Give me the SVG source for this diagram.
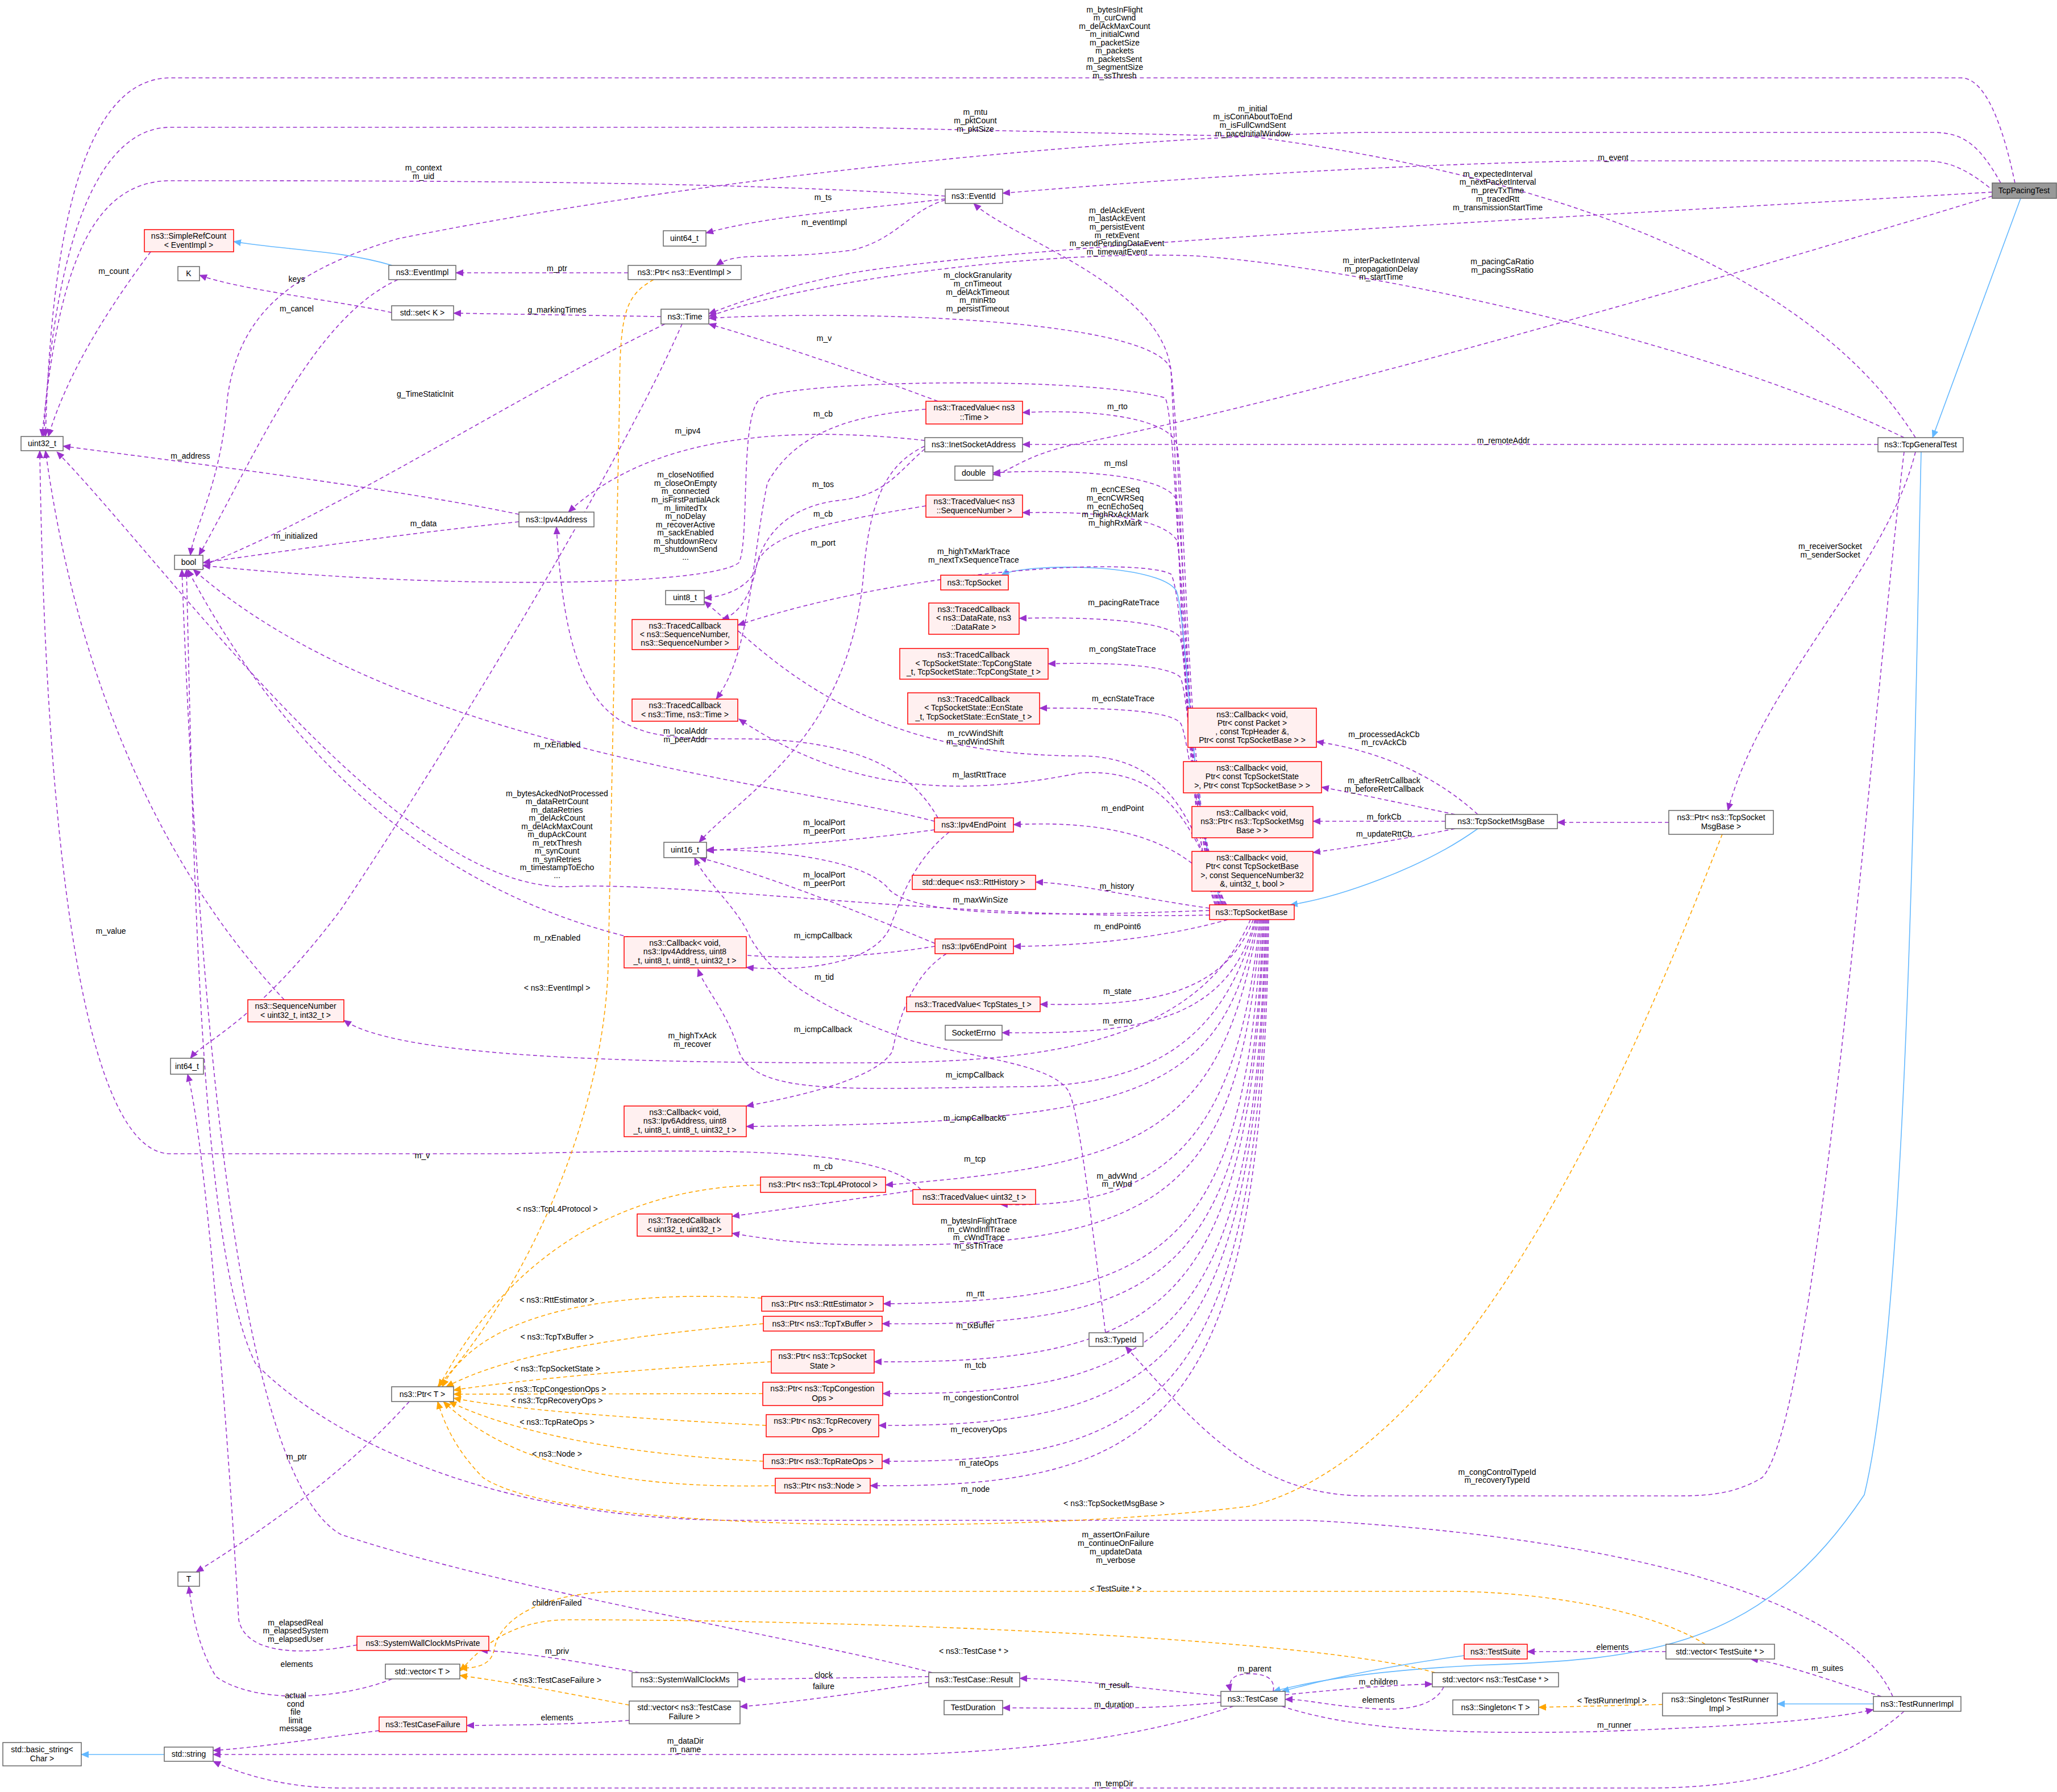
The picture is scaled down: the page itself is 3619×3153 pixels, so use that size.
<svg xmlns="http://www.w3.org/2000/svg" width="3619" height="3153" viewBox="0 0 3619 3153">
<style>
text{font-family:"Liberation Sans",Arial,sans-serif;font-size:14px;fill:#000;text-anchor:middle}
.n rect{fill:#fff;stroke:#666;stroke-width:1.5}
.r rect{fill:#fff0f0;stroke:#f00;stroke-width:1.5}
.g rect{fill:#999;stroke:#666;stroke-width:1.5}
#edges path{fill:none;stroke-width:1.6}
.p{stroke:#9a32cd;stroke-dasharray:7,5;marker-end:url(#mp)}
.o{stroke:#ffa500;stroke-dasharray:7,5;marker-end:url(#mo)}
.b{stroke:#63b8ff;marker-end:url(#mb)}
</style>
<defs>
<marker id="mp" markerWidth="14" markerHeight="12" refX="13" refY="6" orient="auto" markerUnits="userSpaceOnUse"><path d="M0,0 L14,6 L0,12 z" fill="#9a32cd"/></marker>
<marker id="mo" markerWidth="14" markerHeight="12" refX="13" refY="6" orient="auto" markerUnits="userSpaceOnUse"><path d="M0,0 L14,6 L0,12 z" fill="#ffa500"/></marker>
<marker id="mb" markerWidth="14" markerHeight="12" refX="13" refY="6" orient="auto" markerUnits="userSpaceOnUse"><path d="M0,0 L14,6 L0,12 z" fill="#63b8ff"/></marker>
</defs>
<rect width="3619" height="3153" fill="#fff"/>
<g id="edges">
<path class="p" d="M3545,322 C3530,250 3500,137 3450,137 L300,137 C150,137 90,400 80,768"/>
<path class="p" d="M3370,770 C3200,500 2800,320 2200,240 L1500,224 L300,224 C150,224 90,500 77,768"/>
<path class="p" d="M1663,345 C1300,318 700,318 300,318 C150,318 100,500 74,768"/>
<path class="p" d="M265,443 C200,530 120,650 85,768"/>
<path class="p" d="M913,905 C700,860 300,810 111,785"/>
<path class="p" d="M500,1759 C350,1600 150,1300 80,793"/>
<path class="p" d="M1620,2093 C1550,2020 1300,2020 900,2030 L300,2030 C150,2030 80,1500 70,793"/>
<path class="p" d="M2128,1610 C1700,1620 1200,1550 1000,1560 C700,1570 300,1000 100,795"/>
<path class="p" d="M3520,322 C3480,250 3450,233 3400,233 L2400,233 C2000,240 1300,300 700,420 C500,480 420,560 400,700 C390,850 340,930 335,977"/>
<path class="p" d="M700,492 C550,560 450,800 350,977"/>
<path class="p" d="M1170,570 C900,700 600,900 345,1000"/>
<path class="p" d="M913,918 C700,940 500,970 357,990"/>
<path class="p" d="M2138,1592 C2080,1450 2075,750 2050,700 C1900,660 1400,670 1340,700 C1300,720 1320,950 1300,990 C1250,1030 800,1040 357,995"/>
<path class="p" d="M1644,1445 C1400,1380 700,1320 340,1002"/>
<path class="p" d="M1645,1665 C1300,1720 700,1700 330,1002"/>
<path class="p" d="M3330,2985 C3250,2800 2800,2700 2300,2675 L1300,2675 C900,2675 600,2550 450,2400 C350,2200 340,1500 328,1002"/>
<path class="p" d="M1640,2943 C1400,2880 900,2800 600,2700 C420,2600 350,1800 320,1002"/>
<path class="p" d="M3500,330 C3450,290 3420,283 3380,283 L2800,283 C2400,290 2000,320 1764,340"/>
<path class="p" d="M1663,350 C1500,370 1350,380 1242,410"/>
<path class="p" d="M1663,352 C1600,370 1580,420 1500,440 C1350,460 1300,440 1260,467"/>
<path class="p" d="M1105,480 L802,480"/>
<path class="b" d="M690,467 C600,440 500,440 411,425"/>
<path class="p" d="M689,550 C600,530 420,510 351,484"/>
<path class="p" d="M1163,557 L798,551"/>
<path class="p" d="M1200,570 C1100,800 800,1300 600,1600 C450,1800 360,1830 335,1862"/>
<path class="p" d="M3505,338 C2800,380 1800,430 1500,480 C1350,510 1280,540 1247,552"/>
<path class="p" d="M3350,770 C3000,600 2400,470 2100,450 C1800,440 1400,500 1247,557"/>
<path class="p" d="M3505,345 C3000,500 2300,700 1900,780 C1800,800 1780,830 1747,835"/>
<path class="p" d="M2140,1592 C2080,1450 2075,900 2060,650 C2040,500 1780,420 1713,358"/>
<path class="p" d="M2142,1592 C2085,1450 2080,800 2060,650 C2030,560 1500,545 1247,560"/>
<path class="p" d="M1650,706 C1500,650 1350,600 1247,570"/>
<path class="p" d="M1629,720 C1500,730 1400,760 1350,850 C1320,1000 1320,1150 1260,1230"/>
<path class="p" d="M1629,890 C1450,920 1340,940 1330,1000 C1320,1050 1300,1080 1270,1090"/>
<path class="p" d="M1627,775 C1400,750 1150,760 1000,901"/>
<path class="p" d="M1627,785 C1550,820 1530,900 1520,1000 C1500,1300 1300,1400 1230,1482"/>
<path class="p" d="M1627,790 C1580,830 1560,870 1480,880 C1380,890 1340,950 1330,1000 C1320,1030 1280,1050 1239,1052"/>
<path class="p" d="M3304,782 L1799,782"/>
<path class="p" d="M2145,1592 C2090,1450 2085,950 2070,880 C2050,830 1850,825 1747,832"/>
<path class="p" d="M2146,1592 C2090,1450 2085,850 2070,780 C2050,730 1900,720 1799,726"/>
<path class="p" d="M2148,1592 C2090,1450 2085,1000 2070,950 C2040,905 1900,900 1799,902"/>
<path class="b" d="M2150,1592 C2095,1450 2090,1100 2070,1040 C2040,990 1800,990 1762,1012"/>
<path class="p" d="M2144,1592 C2090,1450 2085,1050 2060,1010 C2000,980 1600,1000 1298,1100"/>
<path class="p" d="M2152,1592 C2095,1450 2090,1150 2075,1120 C2050,1090 1900,1085 1793,1088"/>
<path class="p" d="M2154,1592 C2100,1450 2090,1200 2075,1190 C2050,1170 1950,1165 1844,1168"/>
<path class="p" d="M2156,1592 C2100,1450 2090,1280 2075,1270 C2050,1250 1950,1245 1829,1246"/>
<path class="p" d="M2150,1592 C2100,1450 2060,1330 1900,1330 C1500,1330 1350,1150 1239,1058"/>
<path class="p" d="M2152,1592 C2100,1450 2050,1350 1900,1360 C1700,1400 1500,1400 1300,1265"/>
<path class="p" d="M2158,1592 C2110,1500 2000,1440 1783,1451"/>
<path class="p" d="M2128,1602 C1900,1610 1600,1620 1560,1560 C1500,1500 1300,1495 1243,1495"/>
<path class="p" d="M2128,1598 C2000,1580 1900,1555 1822,1552"/>
<path class="p" d="M2160,1618 C2050,1650 1900,1665 1783,1665"/>
<path class="p" d="M2205,1618 C2150,1760 2000,1770 1830,1767"/>
<path class="p" d="M2208,1618 C2160,1800 2000,1820 1763,1817"/>
<path class="p" d="M2210,1618 C2150,1850 2000,1910 1800,1912 C1500,1915 1330,1930 1300,1850 C1280,1780 1240,1740 1228,1705"/>
<path class="p" d="M2212,1618 C2150,1930 2000,1975 1313,1982"/>
<path class="p" d="M2200,1618 C2100,1850 1800,1870 1500,1870 C1100,1870 700,1860 605,1795"/>
<path class="p" d="M2214,1618 C2150,2000 2000,2050 1558,2085"/>
<path class="p" d="M2216,1618 C2180,2000 2050,2130 1760,2119"/>
<path class="p" d="M2218,1618 C2180,2100 2050,2200 1500,2190 C1400,2188 1350,2180 1288,2170"/>
<path class="p" d="M2220,1618 C2190,2200 2050,2290 1554,2294"/>
<path class="p" d="M2222,1618 C2200,2250 2050,2335 1552,2329"/>
<path class="p" d="M2224,1618 C2200,2300 2050,2400 1538,2396"/>
<path class="p" d="M2226,1618 C2210,2350 2050,2455 1553,2452"/>
<path class="p" d="M2228,1618 C2210,2400 2050,2510 1546,2508"/>
<path class="p" d="M2230,1618 C2215,2450 2050,2575 1552,2571"/>
<path class="p" d="M2232,1618 C2220,2500 2050,2618 1531,2614"/>
<path class="p" d="M1650,1439 C1600,1350 1500,1300 1300,1300 C1100,1300 1000,1300 979,927"/>
<path class="p" d="M1644,1460 C1500,1480 1350,1490 1243,1497"/>
<path class="p" d="M1670,1464 C1600,1520 1580,1600 1570,1620 C1550,1700 1400,1710 1313,1702"/>
<path class="p" d="M1645,1660 C1500,1600 1350,1540 1230,1509"/>
<path class="p" d="M1665,1678 C1600,1720 1580,1800 1570,1850 C1540,1900 1400,1930 1313,1946"/>
<path class="p" d="M1945,2345 C1920,2150 1900,1960 1880,1920 C1850,1870 1700,1860 1600,1830 C1400,1760 1350,1700 1320,1650 C1300,1600 1240,1550 1222,1509"/>
<path class="p" d="M1620,2093 C1500,2110 1400,2125 1288,2140"/>
<path class="p" d="M2600,1433 C2520,1360 2420,1320 2316,1305"/>
<path class="p" d="M2560,1433 C2450,1410 2380,1395 2325,1385"/>
<path class="p" d="M2543,1445 L2310,1445"/>
<path class="p" d="M2560,1458 C2450,1480 2380,1490 2310,1500"/>
<path class="b" d="M2600,1458 C2500,1530 2350,1580 2270,1592"/>
<path class="p" d="M2936,1447 L2740,1447"/>
<path class="p" d="M3370,795 C3320,1000 3100,1200 3040,1426"/>
<path class="p" d="M3350,795 C3300,1200 3200,2500 3100,2600 C3050,2630 3000,2632 2950,2632 L2400,2632 C2200,2630 2100,2500 1980,2369"/>
<path class="b" d="M3555,349 L3400,770"/>
<path class="b" d="M3380,795 C3370,1200 3360,2300 3280,2630 C3100,2900 2900,2920 2600,2930 C2400,2940 2300,2960 2240,2976"/>
<path class="o" d="M1150,492 C1100,520 1090,550 1090,700 L1070,1700 C1060,2000 900,2300 770,2440"/>
<path class="o" d="M1338,2085 C1100,2090 900,2200 772,2440"/>
<path class="o" d="M1340,2284 C1100,2270 850,2300 778,2440"/>
<path class="o" d="M1343,2329 C1100,2350 900,2380 785,2440"/>
<path class="o" d="M1357,2396 C1100,2410 900,2430 798,2446"/>
<path class="o" d="M1342,2452 L798,2453"/>
<path class="o" d="M1348,2508 C1100,2495 900,2480 798,2460"/>
<path class="o" d="M1343,2571 C1100,2560 900,2520 790,2466"/>
<path class="o" d="M1364,2614 C1100,2620 900,2580 780,2466"/>
<path class="o" d="M3030,1468 C2900,1800 2600,2550 2200,2650 C1800,2700 1000,2700 850,2600 C800,2550 780,2500 770,2466"/>
<path class="p" d="M720,2466 C600,2600 450,2700 345,2766"/>
<path class="p" d="M690,2954 C600,2990 450,3000 380,2950 C350,2900 340,2850 332,2791"/>
<path class="p" d="M640,2892 C500,2920 430,2900 420,2850 C400,2500 360,2000 330,1890"/>
<path class="o" d="M1107,3000 C1000,2980 900,2960 809,2948"/>
<path class="o" d="M2525,2943 C2300,2880 1500,2850 1000,2850 C880,2850 830,2920 809,2940"/>
<path class="o" d="M3000,2893 C2900,2830 2700,2800 2550,2800 L1100,2800 C950,2800 880,2850 870,2900 C865,2930 840,2935 809,2935"/>
<path class="p" d="M2148,2984 C2000,2970 1900,2955 1794,2953"/>
<path class="p" d="M2148,2995 C2000,3010 1900,3005 1764,3005"/>
<path class="p" d="M2170,3002 C2000,3060 1800,3080 1600,3087 L375,3087"/>
<path class="p" d="M3350,3011 C3250,3100 3100,3146 2900,3146 L600,3146 C500,3146 420,3120 375,3099"/>
<path class="p" d="M2240,2976 C2245,2950 2220,2945 2200,2945 C2170,2945 2160,2955 2165,2976"/>
<path class="p" d="M2261,2982 C2380,2970 2450,2965 2520,2963"/>
<path class="p" d="M2540,2968 C2520,3010 2450,3010 2400,3005 C2330,3000 2300,2990 2261,2990"/>
<path class="b" d="M2576,2913 C2450,2930 2350,2950 2255,2976"/>
<path class="p" d="M2931,2906 L2687,2906"/>
<path class="p" d="M3310,2985 C3200,2950 3130,2925 3080,2919"/>
<path class="b" d="M3296,2998 L3127,2998"/>
<path class="o" d="M2925,2999 L2707,3004"/>
<path class="p" d="M2255,3002 C2400,3050 2600,3050 2800,3047 C3000,3040 3200,3030 3296,3008"/>
<path class="p" d="M1634,2950 L1298,2955"/>
<path class="p" d="M1634,2960 C1500,2980 1400,2995 1302,3003"/>
<path class="p" d="M1125,2943 C1000,2920 900,2905 845,2904"/>
<path class="p" d="M1107,3027 C1000,3035 900,3035 821,3036"/>
<path class="p" d="M667,3045 C550,3060 450,3075 375,3080"/>
<path class="b" d="M289,3087 L143,3087"/>
</g>
<g id="labels">
<text x="1961" y="22">m_bytesInFlight</text><text x="1961" y="36">m_curCwnd</text><text x="1961" y="51">m_delAckMaxCount</text><text x="1961" y="65">m_initialCwnd</text><text x="1961" y="80">m_packetSize</text><text x="1961" y="94">m_packets</text><text x="1961" y="109">m_packetsSent</text><text x="1961" y="123">m_segmentSize</text><text x="1961" y="138">m_ssThresh</text>
<text x="2204" y="196">m_initial</text><text x="2204" y="210">m_isConnAboutToEnd</text><text x="2204" y="225">m_isFullCwndSent</text><text x="2204" y="240">m_paceInitialWindow</text>
<text x="1716" y="202">m_mtu</text><text x="1716" y="217">m_pktCount</text><text x="1716" y="232">m_pktSize</text>
<text x="2838" y="282">m_event</text>
<text x="745" y="300">m_context</text><text x="745" y="315">m_uid</text>
<text x="2635" y="311">m_expectedInterval</text><text x="2635" y="325">m_nextPacketInterval</text><text x="2635" y="340">m_prevTxTime</text><text x="2635" y="355">m_tracedRtt</text><text x="2635" y="370">m_transmissionStartTime</text>
<text x="1448" y="352">m_ts</text>
<text x="1965" y="375">m_delAckEvent</text><text x="1965" y="389">m_lastAckEvent</text><text x="1965" y="404">m_persistEvent</text><text x="1965" y="419">m_retxEvent</text><text x="1965" y="433">m_sendPendingDataEvent</text><text x="1965" y="448">m_timewaitEvent</text>
<text x="1450" y="396">m_eventImpl</text>
<text x="980" y="477">m_ptr</text>
<text x="200" y="482">m_count</text>
<text x="522" y="496">keys</text>
<text x="2430" y="463">m_interPacketInterval</text><text x="2430" y="478">m_propagationDelay</text><text x="2430" y="492">m_startTime</text>
<text x="2643" y="465">m_pacingCaRatio</text><text x="2643" y="480">m_pacingSsRatio</text>
<text x="1720" y="489">m_clockGranularity</text><text x="1720" y="504">m_cnTimeout</text><text x="1720" y="519">m_delAckTimeout</text><text x="1720" y="533">m_minRto</text><text x="1720" y="548">m_persistTimeout</text>
<text x="522" y="548">m_cancel</text>
<text x="980" y="550">g_markingTimes</text>
<text x="1450" y="600">m_v</text>
<text x="748" y="698">g_TimeStaticInit</text>
<text x="1448" y="733">m_cb</text>
<text x="1966" y="720">m_rto</text>
<text x="1210" y="763">m_ipv4</text>
<text x="2645" y="780">m_remoteAddr</text>
<text x="335" y="807">m_address</text>
<text x="1206" y="840">m_closeNotified</text><text x="1206" y="855">m_closeOnEmpty</text><text x="1206" y="869">m_connected</text><text x="1206" y="884">m_isFirstPartialAck</text><text x="1206" y="899">m_limitedTx</text><text x="1206" y="913">m_noDelay</text><text x="1206" y="928">m_recoverActive</text><text x="1206" y="942">m_sackEnabled</text><text x="1206" y="957">m_shutdownRecv</text><text x="1206" y="971">m_shutdownSend</text><text x="1206" y="985">...</text>
<text x="1963" y="820">m_msl</text>
<text x="1962" y="866">m_ecnCESeq</text><text x="1962" y="881">m_ecnCWRSeq</text><text x="1962" y="896">m_ecnEchoSeq</text><text x="1962" y="910">m_highRxAckMark</text><text x="1962" y="925">m_highRxMark</text>
<text x="1448" y="857">m_tos</text>
<text x="1448" y="909">m_cb</text>
<text x="745" y="926">m_data</text>
<text x="520" y="948">m_initialized</text>
<text x="1448" y="960">m_port</text>
<text x="1713" y="975">m_highTxMarkTrace</text><text x="1713" y="990">m_nextTxSequenceTrace</text>
<text x="1977" y="1065">m_pacingRateTrace</text>
<text x="1975" y="1147">m_congStateTrace</text>
<text x="1976" y="1234">m_ecnStateTrace</text>
<text x="1716" y="1295">m_rcvWindShift</text><text x="1716" y="1310">m_sndWindShift</text>
<text x="2435" y="1297">m_processedAckCb</text><text x="2435" y="1311">m_rcvAckCb</text>
<text x="1206" y="1291">m_localAddr</text><text x="1206" y="1306">m_peerAddr</text>
<text x="980" y="1315">m_rxEnabled</text>
<text x="1723" y="1368">m_lastRttTrace</text>
<text x="2435" y="1378">m_afterRetrCallback</text><text x="2435" y="1393">m_beforeRetrCallback</text>
<text x="980" y="1401">m_bytesAckedNotProcessed</text><text x="980" y="1415">m_dataRetrCount</text><text x="980" y="1430">m_dataRetries</text><text x="980" y="1444">m_delAckCount</text><text x="980" y="1459">m_delAckMaxCount</text><text x="980" y="1473">m_dupAckCount</text><text x="980" y="1488">m_retxThresh</text><text x="980" y="1502">m_synCount</text><text x="980" y="1517">m_synRetries</text><text x="980" y="1531">m_timestampToEcho</text><text x="980" y="1545">...</text>
<text x="1975" y="1427">m_endPoint</text>
<text x="2435" y="1442">m_forkCb</text>
<text x="3220" y="966">m_receiverSocket</text><text x="3220" y="981">m_senderSocket</text>
<text x="3025" y="1443">m_ptr</text>
<text x="1450" y="1452">m_localPort</text><text x="1450" y="1467">m_peerPort</text>
<text x="2435" y="1472">m_updateRttCb</text>
<text x="1450" y="1544">m_localPort</text><text x="1450" y="1559">m_peerPort</text>
<text x="1965" y="1564">m_history</text>
<text x="1725" y="1588">m_maxWinSize</text>
<text x="1966" y="1635">m_endPoint6</text>
<text x="195" y="1643">m_value</text>
<text x="1448" y="1651">m_icmpCallback</text>
<text x="980" y="1655">m_rxEnabled</text>
<text x="1450" y="1724">m_tid</text>
<text x="980" y="1743">&lt; ns3::EventImpl &gt;</text>
<text x="1966" y="1749">m_state</text>
<text x="1966" y="1801">m_errno</text>
<text x="1448" y="1816">m_icmpCallback</text>
<text x="1218" y="1827">m_highTxAck</text><text x="1218" y="1842">m_recover</text>
<text x="1715" y="1896">m_icmpCallback</text>
<text x="1715" y="1972">m_icmpCallback6</text>
<text x="743" y="2038">m_v</text>
<text x="1715" y="2044">m_tcp</text>
<text x="1448" y="2057">m_cb</text>
<text x="1965" y="2074">m_advWnd</text><text x="1965" y="2088">m_rWnd</text>
<text x="980" y="2132">&lt; ns3::TcpL4Protocol &gt;</text>
<text x="1722" y="2153">m_bytesInFlightTrace</text><text x="1722" y="2168">m_cWndInflTrace</text><text x="1722" y="2182">m_cWndTrace</text><text x="1722" y="2197">m_ssThTrace</text>
<text x="1716" y="2281">m_rtt</text>
<text x="980" y="2292">&lt; ns3::RttEstimator &gt;</text>
<text x="1716" y="2337">m_txBuffer</text>
<text x="980" y="2357">&lt; ns3::TcpTxBuffer &gt;</text>
<text x="1716" y="2407">m_tcb</text>
<text x="980" y="2413">&lt; ns3::TcpSocketState &gt;</text>
<text x="980" y="2449">&lt; ns3::TcpCongestionOps &gt;</text>
<text x="1726" y="2464">m_congestionControl</text>
<text x="980" y="2469">&lt; ns3::TcpRecoveryOps &gt;</text>
<text x="980" y="2507">&lt; ns3::TcpRateOps &gt;</text>
<text x="1722" y="2520">m_recoveryOps</text>
<text x="980" y="2563">&lt; ns3::Node &gt;</text>
<text x="522" y="2568">m_ptr</text>
<text x="1722" y="2579">m_rateOps</text>
<text x="2634" y="2595">m_congControlTypeId</text><text x="2634" y="2609">m_recoveryTypeId</text>
<text x="1716" y="2625">m_node</text>
<text x="1960" y="2650">&lt; ns3::TcpSocketMsgBase &gt;</text>
<text x="1963" y="2705">m_assertOnFailure</text><text x="1963" y="2720">m_continueOnFailure</text><text x="1963" y="2735">m_updateData</text><text x="1963" y="2750">m_verbose</text>
<text x="1963" y="2800">&lt; TestSuite * &gt;</text>
<text x="980" y="2825">childrenFailed</text>
<text x="520" y="2860">m_elapsedReal</text><text x="520" y="2874">m_elapsedSystem</text><text x="520" y="2889">m_elapsedUser</text>
<text x="2837" y="2903">elements</text>
<text x="1713" y="2910">&lt; ns3::TestCase * &gt;</text>
<text x="980" y="2910">m_priv</text>
<text x="522" y="2933">elements</text>
<text x="3215" y="2940">m_suites</text>
<text x="2207" y="2941">m_parent</text>
<text x="1449" y="2952">clock</text>
<text x="980" y="2961">&lt; ns3::TestCaseFailure &gt;</text>
<text x="1449" y="2972">failure</text>
<text x="520" y="2988">actual</text><text x="520" y="3003">cond</text><text x="520" y="3017">file</text><text x="520" y="3032">limit</text><text x="520" y="3046">message</text>
<text x="2836" y="2997">&lt; TestRunnerImpl &gt;</text>
<text x="1960" y="2970">m_result</text>
<text x="980" y="3027">elements</text>
<text x="2840" y="3040">m_runner</text>
<text x="2425" y="2964">m_children</text>
<text x="1960" y="3004">m_duration</text>
<text x="1206" y="3068">m_dataDir</text><text x="1206" y="3083">m_name</text>
<text x="2425" y="2996">elements</text>
<text x="1960" y="3143">m_tempDir</text>
</g>
<g id="TcpPacingTest" class="g"><rect x="3505" y="322" width="113" height="27"/><text x="3561" y="340">TcpPacingTest</text></g>
<g id="TcpGeneralTest" class="n"><rect x="3304" y="770" width="150" height="25"/><text x="3379" y="787">ns3::TcpGeneralTest</text></g>
<g id="uint32_t" class="n"><rect x="37" y="768" width="74" height="25"/><text x="74" y="785">uint32_t</text></g>
<g id="SimpleRefCount" class="r"><rect x="254" y="404" width="157" height="39"/><text x="332" y="420">ns3::SimpleRefCount</text><text x="332" y="436">&lt; EventImpl &gt;</text></g>
<g id="K" class="n"><rect x="313" y="469" width="38" height="25"/><text x="332" y="486">K</text></g>
<g id="EventImpl" class="n"><rect x="684" y="467" width="118" height="25"/><text x="743" y="484">ns3::EventImpl</text></g>
<g id="setK" class="n"><rect x="689" y="538" width="109" height="25"/><text x="743" y="555">std::set&lt; K &gt;</text></g>
<g id="PtrEventImpl" class="n"><rect x="1105" y="467" width="199" height="25"/><text x="1204" y="484">ns3::Ptr&lt; ns3::EventImpl &gt;</text></g>
<g id="Time" class="n"><rect x="1163" y="544" width="84" height="26"/><text x="1205" y="562">ns3::Time</text></g>
<g id="uint64_t" class="n"><rect x="1167" y="406" width="75" height="27"/><text x="1204" y="424">uint64_t</text></g>
<g id="EventId" class="n"><rect x="1663" y="333" width="101" height="25"/><text x="1713" y="350">ns3::EventId</text></g>
<g id="bool" class="n"><rect x="307" y="977" width="50" height="25"/><text x="332" y="994">bool</text></g>
<g id="Ipv4Address" class="n"><rect x="913" y="901" width="132" height="26"/><text x="979" y="919">ns3::Ipv4Address</text></g>
<g id="TVTime" class="r"><rect x="1629" y="706" width="170" height="40"/><text x="1714" y="722">ns3::TracedValue&lt; ns3</text><text x="1714" y="739">::Time &gt;</text></g>
<g id="InetSocketAddress" class="n"><rect x="1627" y="770" width="172" height="25"/><text x="1713" y="787">ns3::InetSocketAddress</text></g>
<g id="double" class="n"><rect x="1680" y="820" width="67" height="25"/><text x="1713" y="837">double</text></g>
<g id="TVSeq" class="r"><rect x="1629" y="871" width="170" height="39"/><text x="1714" y="887">ns3::TracedValue&lt; ns3</text><text x="1714" y="903">::SequenceNumber &gt;</text></g>
<g id="uint8_t" class="n"><rect x="1171" y="1039" width="68" height="25"/><text x="1205" y="1056">uint8_t</text></g>
<g id="TcpSocket" class="r"><rect x="1655" y="1012" width="119" height="26"/><text x="1714" y="1030">ns3::TcpSocket</text></g>
<g id="TCSeq" class="r"><rect x="1112" y="1090" width="186" height="53"/><text x="1205" y="1106">ns3::TracedCallback</text><text x="1205" y="1121">&lt; ns3::SequenceNumber,</text><text x="1205" y="1136">ns3::SequenceNumber &gt;</text></g>
<g id="TCDataRate" class="r"><rect x="1634" y="1061" width="159" height="55"/><text x="1713" y="1077">ns3::TracedCallback</text><text x="1713" y="1092">&lt; ns3::DataRate, ns3</text><text x="1713" y="1108">::DataRate &gt;</text></g>
<g id="TCCong" class="r"><rect x="1583" y="1141" width="261" height="54"/><text x="1713" y="1157">ns3::TracedCallback</text><text x="1713" y="1172">&lt; TcpSocketState::TcpCongState</text><text x="1713" y="1187">_t, TcpSocketState::TcpCongState_t &gt;</text></g>
<g id="TCEcn" class="r"><rect x="1597" y="1219" width="232" height="55"/><text x="1713" y="1235">ns3::TracedCallback</text><text x="1713" y="1250">&lt; TcpSocketState::EcnState</text><text x="1713" y="1266">_t, TcpSocketState::EcnState_t &gt;</text></g>
<g id="TCTime" class="r"><rect x="1112" y="1230" width="186" height="39"/><text x="1205" y="1246">ns3::TracedCallback</text><text x="1205" y="1262">&lt; ns3::Time, ns3::Time &gt;</text></g>
<g id="CbPacket" class="r"><rect x="2090" y="1246" width="226" height="69"/><text x="2203" y="1262">ns3::Callback&lt; void,</text><text x="2203" y="1277">Ptr&lt; const Packet &gt;</text><text x="2203" y="1292">, const TcpHeader &amp;,</text><text x="2203" y="1307">Ptr&lt; const TcpSocketBase &gt; &gt;</text></g>
<g id="CbState" class="r"><rect x="2082" y="1340" width="243" height="55"/><text x="2203" y="1356">ns3::Callback&lt; void,</text><text x="2203" y="1371">Ptr&lt; const TcpSocketState</text><text x="2203" y="1387">&gt;, Ptr&lt; const TcpSocketBase &gt; &gt;</text></g>
<g id="CbMsg" class="r"><rect x="2097" y="1419" width="213" height="55"/><text x="2203" y="1435">ns3::Callback&lt; void,</text><text x="2203" y="1450">ns3::Ptr&lt; ns3::TcpSocketMsg</text><text x="2203" y="1466">Base &gt; &gt;</text></g>
<g id="CbSeq32" class="r"><rect x="2097" y="1498" width="213" height="70"/><text x="2203" y="1514">ns3::Callback&lt; void,</text><text x="2203" y="1529">Ptr&lt; const TcpSocketBase</text><text x="2203" y="1545">&gt;, const SequenceNumber32</text><text x="2203" y="1560">&amp;, uint32_t, bool &gt;</text></g>
<g id="TcpSocketMsgBase" class="n"><rect x="2543" y="1433" width="197" height="25"/><text x="2641" y="1450">ns3::TcpSocketMsgBase</text></g>
<g id="PtrMsgBase" class="n"><rect x="2936" y="1426" width="184" height="42"/><text x="3028" y="1443">ns3::Ptr&lt; ns3::TcpSocket</text><text x="3028" y="1459">MsgBase &gt;</text></g>
<g id="Ipv4EndPoint" class="r"><rect x="1644" y="1439" width="139" height="25"/><text x="1713" y="1456">ns3::Ipv4EndPoint</text></g>
<g id="uint16_t" class="n"><rect x="1168" y="1482" width="75" height="27"/><text x="1205" y="1500">uint16_t</text></g>
<g id="deque" class="r"><rect x="1605" y="1540" width="217" height="25"/><text x="1713" y="1557">std::deque&lt; ns3::RttHistory &gt;</text></g>
<g id="TcpSocketBase" class="r"><rect x="2128" y="1592" width="149" height="26"/><text x="2202" y="1610">ns3::TcpSocketBase</text></g>
<g id="Ipv6EndPoint" class="r"><rect x="1645" y="1652" width="138" height="26"/><text x="1714" y="1670">ns3::Ipv6EndPoint</text></g>
<g id="CbIpv4" class="r"><rect x="1098" y="1648" width="215" height="55"/><text x="1205" y="1664">ns3::Callback&lt; void,</text><text x="1205" y="1679">ns3::Ipv4Address, uint8</text><text x="1205" y="1695">_t, uint8_t, uint8_t, uint32_t &gt;</text></g>
<g id="SequenceNumber" class="r"><rect x="436" y="1759" width="169" height="39"/><text x="520" y="1775">ns3::SequenceNumber</text><text x="520" y="1791">&lt; uint32_t, int32_t &gt;</text></g>
<g id="TVStates" class="r"><rect x="1595" y="1754" width="235" height="26"/><text x="1712" y="1772">ns3::TracedValue&lt; TcpStates_t &gt;</text></g>
<g id="SocketErrno" class="n"><rect x="1663" y="1804" width="100" height="26"/><text x="1713" y="1822">SocketErrno</text></g>
<g id="int64_t" class="n"><rect x="300" y="1862" width="58" height="28"/><text x="329" y="1881">int64_t</text></g>
<g id="CbIpv6" class="r"><rect x="1098" y="1946" width="215" height="54"/><text x="1205" y="1962">ns3::Callback&lt; void,</text><text x="1205" y="1977">ns3::Ipv6Address, uint8</text><text x="1205" y="1993">_t, uint8_t, uint8_t, uint32_t &gt;</text></g>
<g id="PtrL4" class="r"><rect x="1338" y="2071" width="220" height="27"/><text x="1448" y="2089">ns3::Ptr&lt; ns3::TcpL4Protocol &gt;</text></g>
<g id="TVuint32" class="r"><rect x="1606" y="2093" width="216" height="26"/><text x="1714" y="2111">ns3::TracedValue&lt; uint32_t &gt;</text></g>
<g id="TCuint32" class="r"><rect x="1121" y="2136" width="167" height="39"/><text x="1204" y="2152">ns3::TracedCallback</text><text x="1204" y="2168">&lt; uint32_t, uint32_t &gt;</text></g>
<g id="PtrRtt" class="r"><rect x="1340" y="2281" width="214" height="26"/><text x="1447" y="2299">ns3::Ptr&lt; ns3::RttEstimator &gt;</text></g>
<g id="PtrTx" class="r"><rect x="1343" y="2316" width="209" height="26"/><text x="1447" y="2334">ns3::Ptr&lt; ns3::TcpTxBuffer &gt;</text></g>
<g id="TypeId" class="n"><rect x="1916" y="2345" width="95" height="24"/><text x="1963" y="2362">ns3::TypeId</text></g>
<g id="PtrState" class="r"><rect x="1357" y="2375" width="181" height="41"/><text x="1447" y="2391">ns3::Ptr&lt; ns3::TcpSocket</text><text x="1447" y="2408">State &gt;</text></g>
<g id="PtrT" class="n"><rect x="689" y="2440" width="109" height="26"/><text x="743" y="2458">ns3::Ptr&lt; T &gt;</text></g>
<g id="PtrCong" class="r"><rect x="1342" y="2432" width="211" height="41"/><text x="1447" y="2448">ns3::Ptr&lt; ns3::TcpCongestion</text><text x="1447" y="2465">Ops &gt;</text></g>
<g id="PtrRec" class="r"><rect x="1348" y="2489" width="198" height="39"/><text x="1447" y="2505">ns3::Ptr&lt; ns3::TcpRecovery</text><text x="1447" y="2521">Ops &gt;</text></g>
<g id="PtrRate" class="r"><rect x="1343" y="2559" width="209" height="25"/><text x="1447" y="2576">ns3::Ptr&lt; ns3::TcpRateOps &gt;</text></g>
<g id="PtrNode" class="r"><rect x="1364" y="2601" width="167" height="26"/><text x="1447" y="2619">ns3::Ptr&lt; ns3::Node &gt;</text></g>
<g id="T" class="n"><rect x="313" y="2766" width="38" height="25"/><text x="332" y="2783">T</text></g>
<g id="SWCMsPrivate" class="r"><rect x="628" y="2879" width="232" height="25"/><text x="744" y="2896">ns3::SystemWallClockMsPrivate</text></g>
<g id="vectorT" class="n"><rect x="678" y="2928" width="131" height="26"/><text x="743" y="2946">std::vector&lt; T &gt;</text></g>
<g id="SWCMs" class="n"><rect x="1112" y="2943" width="186" height="25"/><text x="1205" y="2960">ns3::SystemWallClockMs</text></g>
<g id="Result" class="n"><rect x="1634" y="2943" width="160" height="25"/><text x="1714" y="2960">ns3::TestCase::Result</text></g>
<g id="vecTCF" class="n"><rect x="1107" y="2993" width="195" height="40"/><text x="1204" y="3009">std::vector&lt; ns3::TestCase</text><text x="1204" y="3025">Failure &gt;</text></g>
<g id="TestDuration" class="n"><rect x="1661" y="2992" width="103" height="25"/><text x="1712" y="3009">TestDuration</text></g>
<g id="TestCaseFailure" class="r"><rect x="667" y="3021" width="154" height="26"/><text x="744" y="3039">ns3::TestCaseFailure</text></g>
<g id="basic_string" class="n"><rect x="5" y="3066" width="138" height="41"/><text x="74" y="3083">std::basic_string&lt;</text><text x="74" y="3099">Char &gt;</text></g>
<g id="string" class="n"><rect x="289" y="3074" width="86" height="25"/><text x="332" y="3091">std::string</text></g>
<g id="TestSuite" class="r"><rect x="2576" y="2893" width="111" height="26"/><text x="2631" y="2911">ns3::TestSuite</text></g>
<g id="vecTS" class="n"><rect x="2931" y="2893" width="191" height="26"/><text x="3026" y="2911">std::vector&lt; TestSuite * &gt;</text></g>
<g id="vecTC" class="n"><rect x="2520" y="2943" width="222" height="25"/><text x="2631" y="2960">std::vector&lt; ns3::TestCase * &gt;</text></g>
<g id="TestCase" class="n"><rect x="2148" y="2976" width="113" height="26"/><text x="2204" y="2994">ns3::TestCase</text></g>
<g id="SingletonT" class="n"><rect x="2556" y="2991" width="151" height="26"/><text x="2631" y="3009">ns3::Singleton&lt; T &gt;</text></g>
<g id="SingletonTRI" class="n"><rect x="2925" y="2979" width="202" height="40"/><text x="3026" y="2995">ns3::Singleton&lt; TestRunner</text><text x="3026" y="3011">Impl &gt;</text></g>
<g id="TestRunnerImpl" class="n"><rect x="3296" y="2985" width="154" height="26"/><text x="3373" y="3003">ns3::TestRunnerImpl</text></g>
</svg>
